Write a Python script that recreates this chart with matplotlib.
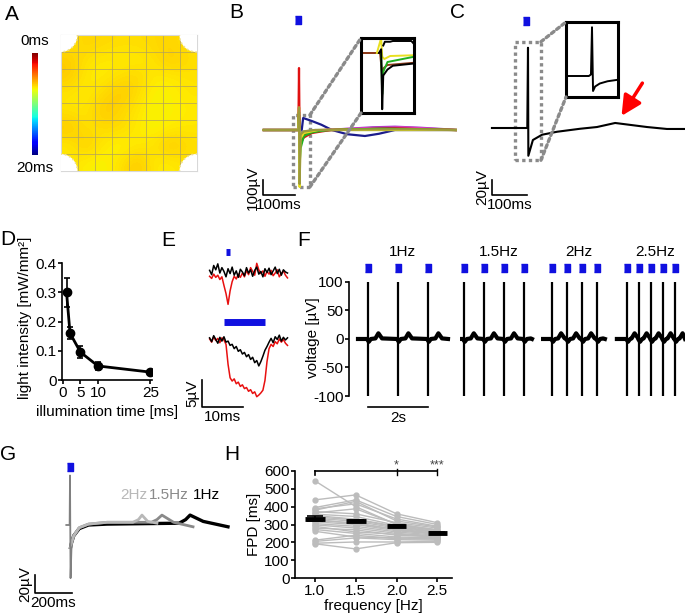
import numpy as np
import matplotlib
matplotlib.use('Agg')
import matplotlib.pyplot as plt
from matplotlib.patches import Circle, Rectangle, ConnectionPatch

plt.rcParams['font.family'] = ['Liberation Sans', 'DejaVu Sans']
plt.rcParams['font.size'] = 11
plt.rcParams['axes.linewidth'] = 1.2
plt.rcParams['axes.unicode_minus'] = False
plt.rcParams['xtick.major.width'] = 1.2
plt.rcParams['ytick.major.width'] = 1.2

W, H = 685, 614

# ---------------- data ----------------
# A: activation time map [ms], 8x8 electrode grid (corners empty)
act_map = [
    [6.6, 6.3, 6.4, 6.5, 6.5, 6.4, 6.3, 6.6],
    [6.1, 6.6, 6.8, 6.8, 6.8, 6.6, 6.1, 6.5],
    [6.1, 6.8, 6.8, 6.5, 6.3, 6.8, 6.8, 6.6],
    [6.7, 6.8, 6.4, 6.0, 6.5, 7.0, 6.9, 6.7],
    [6.6, 6.7, 6.0, 6.4, 6.7, 7.0, 6.9, 6.8],
    [6.0, 6.6, 6.5, 6.4, 6.8, 7.0, 6.8, 6.7],
    [6.8, 6.1, 6.8, 7.0, 6.8, 6.6, 6.0, 6.5],
    [6.6, 6.9, 7.0, 6.6, 6.0, 6.8, 6.8, 6.6],
]
act_range = (0, 20)

# B: field potentials of several electrodes (t [ms], v [uV])
b_colors = ['#1c1c8c', '#9b30c8', '#e040c0', '#e01010', '#8b3a1a',
            '#ff8c1a', '#20b020', '#909090', '#e8e020', '#9c9a3c']
b_t = [
    [-110, -2, 0, 3, 13, 40, 70, 103, 150, 206, 250, 300, 490],
    [-110, -2, 0, 3, 10, 30, 80, 150, 230, 300, 380, 460, 490],
    [-110, -2, 0, 2, 6, 25, 80, 160, 250, 320, 400, 490],
    [-110, -2, 0, 2, 5, 15, 40, 100, 200, 300, 400, 490],
    [-110, -2, 0, 2, 8, 20, 60, 150, 280, 380, 490],
    [-110, -2, 0, 2, 6, 20, 70, 200, 490],
    [-110, -2, 0, 2, 5, 15, 40, 90, 250, 490],
    [-110, -2, 0, 3, 10, 50, 490],
    [-110, -2, 0, 2, 4, 15, 60, 490],
    [-110, -2, 0, 2, 5, 15, 50, 200, 350, 490],
]
b_v = [
    [0, 0, 50, -100, 80, 60, 35, 0, -28, -40, -25, 0, 0],
    [0, 0, 80, -60, -30, -10, 0, 8, 18, 22, 15, 5, 0],
    [0, 0, 150, -90, -40, -15, 0, 8, 15, 18, 10, 0],
    [0, 0, 413, -60, -87, -50, -20, 0, 5, 10, 5, 0],
    [0, 0, 100, -120, -60, -30, -5, 3, 10, 5, 0],
    [0, 0, 60, -100, -30, -10, 0, 5, 0],
    [0, 0, 120, -220, -120, -40, -15, 0, 8, 0],
    [0, 0, 40, -60, -10, 0, 0],
    [0, 0, 150, -380, -60, -20, 0, 0],
    [0, 0, 150, -360, -30, -10, 0, 3, 4, 0],
]
# B inset (normalised zoom of the spike)
bi_colors = ['#e05010', '#8b3a1a', '#e8e020', '#20b020', 'k', 'k']
bi_x = [
    [0.0, 0.36, 0.38],
    [0.0, 0.36, 0.40, 0.43, 0.5, 1.0],
    [0.30, 0.38, 0.40, 0.44, 0.55, 1.0],
    [0.38, 0.40, 0.42, 0.5, 1.0],
    [0.34, 0.38, 0.40, 0.42, 0.5, 0.6, 1.0],
    [0.42, 0.45, 0.55, 0.6, 0.95, 1.0],
]
bi_y = [
    [0.8, 0.8, 0.82],
    [0.8, 0.8, 0.5, 0.6, 0.64, 0.67],
    [0.8, 1.0, 0.75, 0.72, 0.76, 0.77],
    [0.8, 0.25, 0.55, 0.68, 0.75],
    [0.8, 0.85, 0.05, 0.5, 0.58, 0.63, 0.66],
    [0.9, 0.95, 0.95, 0.96, 0.96, 0.92],
]

# C: single electrode field potential (t [ms], v [uV])
c_t = [-103, -2, 0, 1, 14, 40, 83, 149, 197, 249, 340, 397, 449]
c_v = [0, 0, 107, -37, -16, -9, -5, -1, 1.3, 6.7, 1.3, -1.3, -1.3]
ci_x = [0, 0.44, 0.48, 0.5, 0.52, 0.56, 0.65, 0.8, 1.0]
ci_y = [0.28, 0.28, 0.3, 0.93, 0.08, 0.14, 0.18, 0.21, 0.23]

# D: threshold light intensity vs illumination time
d_time = [1, 2, 5, 10, 25]
d_intensity = [0.30, 0.16, 0.095, 0.048, 0.027]
d_err = [0.05, 0.02, 0.02, 0.015, 0.004]

# E: responses to 1 ms and 10 ms light pulses (t [ms], v [uV])
e_t = np.arange(-4, 15.5, 0.5)
e_short_ctrl = [0.3, -0.5, 1.2, 0.4, 1.5, -0.2, 0.8, 0.1, -0.9, 0.6, -0.3, 0.9, -0.6,
                0.2, -1.0, 0.5, 0.0, -0.7, 0.8, -0.2, 0.4, -0.8, 0.3, 0.9, -0.4, 0.1,
                -0.9, 0.6, -0.1, 0.7, -0.5, 0.2, 0.9, -0.3, 0.5, -0.6, 0.4, 0.0, -0.2]
e_short_chr = [-0.8, -1.2, -0.4, -1.0, -0.6, -1.4, -0.9, -2.5, -4.0, -6.0, -3.5, -1.8,
               -0.8, -1.3, -0.4, -1.0, -0.2, -0.9, 0.3, -0.5, 0.8, 0.1, -0.6, 1.6, 0.4,
               -0.3, 0.2, -0.8, 0.1, -0.4, 0.3, -0.7, -0.2, 0.4, -0.9, -0.3, 0.2, -0.6, -1.1]
e_long_ctrl = [0.4, -0.3, 0.8, 0.1, -0.6, 0.5, -0.2, 0.6, -0.4, -0.2, -1.0, -0.8, -1.6,
               -1.2, -2.1, -1.8, -2.6, -2.3, -3.1, -2.7, -3.6, -3.2, -4.2, -3.8, -4.8,
               -4.0, -3.0, -1.9, -1.2, -0.4, 0.3, -0.5, 0.6, 0.1, 0.9, -0.2, 0.5, 0.0, 0.4]
e_long_chr = [0.2, -0.4, 0.6, -0.1, 0.3, -0.5, 0.4, 0.0, -0.8, -4.5, -7.0, -7.6, -7.2,
              -8.1, -7.8, -8.6, -8.3, -9.0, -8.8, -9.5, -9.2, -9.9, -9.6, -10.5, -10.2,
              -9.8, -9.3, -7.5, -4.0, -1.6, -0.8, -1.2, -0.3, -0.7, 0.2, -0.4, 0.1, -0.6, -1.0]
e_pulse = [(0, 1), (-0.5, 9.5)]

# F: paced recordings at 4 frequencies (t [s], v [uV])
f_labels = ['1Hz', '1.5Hz', '2Hz', '2.5Hz']
f_spans = [(0.3, 3.3), (3.77, 6.1), (6.47, 8.53), (8.93, 11.2)]
f_spikes = [[0.63, 1.63, 2.63],
            [3.83, 4.5, 5.17, 5.83],
            [6.77, 7.27, 7.77, 8.27],
            [9.27, 9.67, 10.07, 10.47, 10.87]]
f_fpd = [0.35, 0.33, 0.30, 0.25]
f_twave = 10

# G: averaged field potential at 2, 1.5, 1 Hz (t [ms], v [uV])
g_labels = ['2Hz', '1.5Hz', '1Hz']
g_colors = ['#b8b8b8', '#8a8a8a', '#000000']
g_spike_t = [-20, -2, 0, 3, 8]
g_spike_v = [0, 0, 55, -59, -25]
g_t = [
    [3, 8, 20, 50, 100, 200, 340, 370, 389, 420, 470],
    [3, 8, 20, 50, 100, 200, 440, 470, 497, 560, 665],
    [3, 8, 20, 50, 100, 200, 590, 625, 649, 720, 854],
]
g_v = [
    [-25, -20, -12, -3, 1, 3, 3, 6, 11, 4, 2],
    [-25, -20, -12, -3, 1, 3, 3, 6, 11, 3, -2],
    [-25, -20, -12, -4, 0, 1, 2, 6, 11, 4, -2],
]

# H: field potential duration vs pacing frequency
h_freq = [1.0, 1.5, 2.0, 2.5]
h_fpd_1 = [545, 438, 395, 388, 380, 372, 365, 358, 350, 342, 335, 330, 322, 315,
           305, 298, 290, 280, 272, 262, 212, 205, 195, 192]
h_fpd_15 = [400, 466, 438, 416, 430, 360, 388, 345, 330, 326, 318, 303, 310, 300,
            290, 280, 258, 270, 250, 230, 240, 225, 202, 163]
h_fpd_2 = [300, 360, 345, 331, 320, 310, 303, 295, 290, 286, 280, 275, 270, 265,
           258, 250, 245, 240, 230, 225, 220, 215, 202, 198]
h_fpd_25 = [270, 310, 300, 290, 286, 280, 270, 265, 260, 258, 255, 250, 248, 245,
            240, 236, 232, 230, 225, 220, 218, 212, 205, 200]
h_mean = [331, 320, 292, 253]
h_sem = [14, 8, 5, 3]
h_sig = [(2.0, '*'), (2.5, '***')]

# ---------------- figure ----------------
fig = plt.figure(figsize=(W / 100, H / 100), dpi=100)
BLUE = '#1010e0'
DOT = dict(color='#8a8a8a', lw=2.4, linestyle=(0, (1, 1)))


def px_axes(x0, y0, x1, y1):
    return fig.add_axes([x0 / W, 1 - y1 / H, (x1 - x0) / W, (y1 - y0) / H])


def trace_axes(box, origin, scale):
    ax = px_axes(*box)
    ax.set_xlim((box[0] - origin[0]) / scale[0], (box[2] - origin[0]) / scale[0])
    ax.set_ylim((origin[1] - box[3]) / scale[1], (origin[1] - box[1]) / scale[1])
    ax.axis('off')
    return ax


def scalebar(ax, x, y, dx, dy, xtxt, ytxt):
    ax.plot([x, x, x + dx], [y + dy, y, y], color='k', lw=1.2)
    ax.annotate(xtxt, (x + dx / 2, y), xytext=(0, -2), textcoords='offset points',
                ha='center', va='top', fontsize=11)
    ax.annotate(ytxt, (x, y + dy / 2), xytext=(-2, 0), textcoords='offset points',
                ha='right', va='center', rotation=90, fontsize=11)


def stim(ax, x, y, ms=6):
    ax.plot(x, y, ls='none', marker=[(-0.7, -1), (0.7, -1), (0.7, 1), (-0.7, 1)],
            ms=ms, color=BLUE, mec=BLUE)


def inset(box):
    ax = px_axes(*box)
    ax.set_xlim(0, 1)
    ax.set_ylim(0, 1)
    ax.set_xticks([])
    ax.set_yticks([])
    for s in ax.spines.values():
        s.set_linewidth(2.2)
    return ax


def connect(ax_a, xy_a, ax_b, xy_b):
    fig.add_artist(ConnectionPatch(xyA=xy_a, coordsA=ax_a.transData,
                                   xyB=xy_b, coordsB=ax_b.transAxes, **DOT))


def simple_spines(ax):
    ax.spines['top'].set_visible(False)
    ax.spines['right'].set_visible(False)
    ax.tick_params(direction='out', length=3, pad=1)


# ---- A ----
ax_a = px_axes(57, 35, 200, 171)
im = ax_a.imshow(act_map, cmap='jet_r', vmin=act_range[0], vmax=act_range[1],
                 interpolation='bicubic', extent=(0, 8, 8, 0))
for k in range(1, 8):
    ax_a.axvline(k, color='#b0a060', lw=0.5)
    ax_a.axhline(k, color='#b0a060', lw=0.5)
for cx, cy in [(0, 0), (8, 0), (0, 8), (8, 8)]:
    ax_a.add_patch(Circle((cx, cy), 1.0, facecolor='white', edgecolor='#f0e090',
                          lw=1.2, linestyle=':', zorder=3))
ax_a.set_xticks([])
ax_a.set_yticks([])
for s in ax_a.spines.values():
    s.set_color('#d8d8d8')
    s.set_linewidth(0.8)
cax = px_axes(32, 53, 38, 155)
fig.colorbar(im, cax=cax)
cax.invert_yaxis()
cax.set_axis_off()
fig.text(35 / W, 1 - 41 / H, '%dms' % act_range[0], ha='center', va='center', fontsize=11)
fig.text(35 / W, 1 - 168 / H, '%dms' % act_range[1], ha='center', va='center', fontsize=11)

# ---- B ----
ax_b = trace_axes((240, 10, 460, 215), (299, 130), (0.32, 0.15))
for col, t, v in zip(b_colors, b_t, b_v):
    ax_b.plot(t, v, color=col, lw=1.6)
stim(ax_b, -3, 733)
ax_b.add_patch(Rectangle((-19, -380), 53, 480, fill=False, **DOT))
scalebar(ax_b, -112.5, -433, 100, 100, '100ms', '100µV')
ax_bi = inset((361, 38, 414, 113))
for col, x, y in zip(bi_colors, bi_x, bi_y):
    ax_bi.plot(x, y, color=col, lw=1.4)
connect(ax_b, (34, 100), ax_bi, (0, 1))
connect(ax_b, (34, -380), ax_bi, (0, 0))

# ---- C ----
ax_c = trace_axes((470, 10, 685, 215), (528, 128), (0.35, 0.75))
ax_c.plot(c_t, c_v, color='k', lw=1.5)
stim(ax_c, -6, 143)
ax_c.add_patch(Rectangle((-37, -43), 74, 158, fill=False, **DOT))
ax_c.annotate('', xy=(263, 13), xytext=(331, 63),
              arrowprops=dict(arrowstyle='-|>', color='red', lw=2.5, mutation_scale=30))
scalebar(ax_c, -103, -89, 100, 20, '100ms', '20µV')
ax_ci = inset((566, 22, 618, 97))
ax_ci.plot(ci_x, ci_y, color='k', lw=1.4)
connect(ax_c, (37, 115), ax_ci, (0, 1))
connect(ax_c, (37, -43), ax_ci, (0, 0))

# ---- D ----
ax_d = px_axes(62, 263, 152, 380)
ax_d.errorbar(d_time, d_intensity, yerr=d_err, color='k', lw=2, marker='o', ms=6,
              elinewidth=1.2, capsize=2.5, capthick=1.2)
ax_d.set_xlim(-0.3, 25.5)
ax_d.set_ylim(0, 0.4)
ax_d.set_xticks([0, 5, 10, 25])
ax_d.set_yticks([0, 0.1, 0.2, 0.3, 0.4])
ax_d.set_yticklabels(['0', '0.1', '0.2', '0.3', '0.4'])
simple_spines(ax_d)
ax_d.set_xlabel('illumination time [ms]', fontsize=11, labelpad=4)
ax_d.set_ylabel('light intensity [mW/mm²]', fontsize=11)
ax_d.yaxis.set_label_coords(-0.335, 0.53)

# ---- E ----
ax_e = trace_axes((185, 245, 295, 425), (226, 340), (4.1, 5.4))
off = 12.6
ax_e.plot(e_t, np.array(e_short_chr) + off, color='#e81010', lw=1.1)
ax_e.plot(e_t, np.array(e_short_ctrl) + off, color='k', lw=1.1)
ax_e.plot(e_t, e_long_chr, color='#e81010', lw=1.1)
ax_e.plot(e_t, e_long_ctrl, color='k', lw=1.1)
ax_e.plot(e_pulse[0], [16.3, 16.3], color=BLUE, lw=5, solid_capstyle='butt')
ax_e.plot(e_pulse[1], [3.3, 3.3], color=BLUE, lw=5, solid_capstyle='butt')
scalebar(ax_e, -5.85, -12.4, 10, 5, '10ms', '5µV')

# ---- F ----
ax_f = px_axes(349, 258, 685, 400)
ax_f.set_xlim(0, 11.2)
ax_f.set_ylim(-107, 142)
for lab, span, spikes, fpd in zip(f_labels, f_spans, f_spikes, f_fpd):
    pts = [(span[0], 0), (span[1], 0)]
    for s in spikes:
        pts += [(s - 0.03, 0), (s + 0.03, -5), (s + 0.1, 0),
                (s + fpd - 0.1, 1), (s + fpd, f_twave), (s + fpd + 0.12, 1)]
    pts = sorted(p for p in pts if span[0] <= p[0] <= span[1])
    ax_f.plot([p[0] for p in pts], [p[1] for p in pts], color='k', lw=3)
    ax_f.vlines(spikes, -100, 100, color='k', lw=1.6)
    stim(ax_f, spikes, [124] * len(spikes))
    ax_f.text(np.mean(spikes) + 0.15, 152, lab, ha='center', va='center', fontsize=11)
for s in ['top', 'right', 'bottom']:
    ax_f.spines[s].set_visible(False)
ax_f.spines['left'].set_bounds(-100, 100)
ax_f.set_xticks([])
ax_f.set_yticks([-100, -50, 0, 50, 100])
ax_f.tick_params(direction='out', length=3, pad=1)
ax_f.set_ylabel('voltage [µV]', fontsize=11)
ax_f.yaxis.set_label_coords(-0.086, 0.44)
ax_f.plot([f_spikes[0][0], f_spikes[0][0] + 2], [-119, -119], color='k', lw=1.2, clip_on=False)
ax_f.text(f_spikes[0][0] + 1, -126, '2s', ha='center', va='top', fontsize=11)

# ---- G ----
ax_g = trace_axes((10, 460, 235, 600), (70, 525), (0.185, 0.9))
for col, t, v in zip(g_colors[::-1], g_t[::-1], g_v[::-1]):
    ax_g.plot(t, v, color=col, lw=2.4 if col == '#000000' else 2.0)
ax_g.plot(g_spike_t, g_spike_v, color='#808080', lw=1.3)
stim(ax_g, 0, 64)
for lab, col, x in zip(g_labels, g_colors, [346, 535, 735]):
    ax_g.text(x, 33, lab, color=col, ha='center', va='center', fontsize=11)
scalebar(ax_g, -189, -76, 200, 20, '200ms', '20µV')

# ---- H ----
ax_h = px_axes(295, 471, 452, 578)
for row in zip(h_fpd_1, h_fpd_15, h_fpd_2, h_fpd_25):
    ax_h.plot(h_freq, row, color='#bcbcbc', lw=1, marker='o', ms=3.5, zorder=1)
ax_h.errorbar(h_freq, h_mean, yerr=h_sem, fmt='none', ecolor='k', elinewidth=1.2,
              capsize=6, capthick=1.2, zorder=3)
ax_h.hlines(h_mean, np.array(h_freq) - 0.12, np.array(h_freq) + 0.12, color='k', lw=3.5, zorder=3)
ax_h.set_xlim(0.756, 2.68)
ax_h.set_ylim(0, 600)
ax_h.set_xticks(h_freq)
ax_h.set_xticklabels(['%.1f' % f for f in h_freq])
ax_h.set_yticks(range(0, 601, 100))
simple_spines(ax_h)
ax_h.set_xlabel('frequency [Hz]', fontsize=11, labelpad=1)
ax_h.set_ylabel('FPD [ms]', fontsize=11, labelpad=2)
ax_h.plot([h_freq[0], h_freq[-1]], [600, 600], color='k', lw=1.2, clip_on=False)
ax_h.plot([h_freq[0], h_freq[0]], [578, 600], color='k', lw=1.2, clip_on=False)
for x, star in h_sig:
    ax_h.plot([x, x], [580, 610], color='k', lw=1.0, clip_on=False)
    ax_h.text(x, 596, star, ha='center', va='bottom', fontsize=9, color='#444444')

# panel letters
for lab, x, y in [('A', 12, 14), ('B', 236, 13), ('C', 457, 12), ('D', 8, 240),
                  ('E', 168, 241), ('F', 304, 241), ('G', 8, 455), ('H', 232, 455)]:
    fig.text(x / W, 1 - y / H, lab, fontsize=15, ha='center', va='center')

fig.savefig('out.png', dpi=100)
